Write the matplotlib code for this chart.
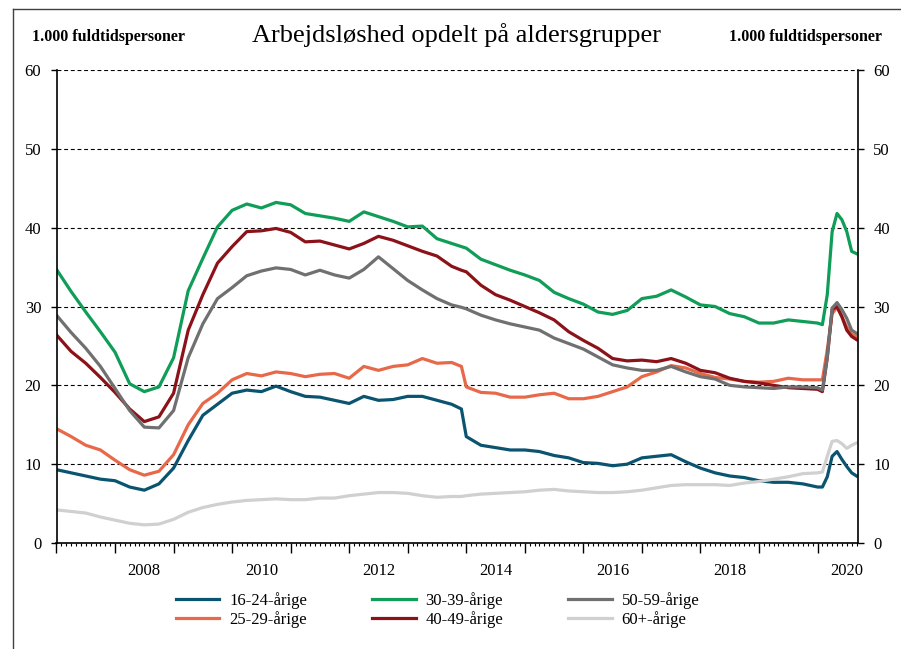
import matplotlib
matplotlib.use("Agg")
import matplotlib.pyplot as plt
import matplotlib.transforms as mtransforms
from matplotlib.lines import Line2D
import numpy as np

# måneder efter januar 2007
maaned = [0, 3, 6, 9, 12, 15, 18, 21, 24, 27, 30, 33, 36, 39, 42, 45, 48, 51, 54, 57,
          60, 63, 66, 69, 72, 75, 78, 81, 83, 84, 87, 90, 93, 96, 99, 102, 105, 108,
          111, 114, 117, 120, 123, 126, 129, 132, 135, 138, 141, 144, 147, 150, 153,
          156, 157, 158, 159, 160, 161, 162, 163, 164]

aar_16_24 = [9.3, 8.9, 8.5, 8.1, 7.9, 7.1, 6.7, 7.5, 9.5, 13.0, 16.2, 17.6, 19.0, 19.4, 19.2, 19.9, 19.2, 18.6, 18.5, 18.1,
             17.7, 18.6, 18.1, 18.2, 18.6, 18.6, 18.1, 17.6, 17.0, 13.5, 12.4, 12.1, 11.8, 11.8, 11.6, 11.1, 10.8, 10.2,
             10.1, 9.8, 10.0, 10.8, 11.0, 11.2, 10.3, 9.5, 8.9, 8.5, 8.3, 7.9, 7.7, 7.7, 7.5,
             7.1, 7.1, 8.4, 11.0, 11.6, 10.6, 9.7, 8.9, 8.5]
aar_25_29 = [14.5, 13.5, 12.4, 11.8, 10.5, 9.3, 8.6, 9.1, 11.2, 15.0, 17.7, 19.0, 20.7, 21.5, 21.2, 21.7, 21.5, 21.1, 21.4, 21.5,
             20.9, 22.4, 21.9, 22.4, 22.6, 23.4, 22.8, 22.9, 22.4, 19.8, 19.1, 19.0, 18.5, 18.5, 18.8, 19.0, 18.3, 18.3,
             18.6, 19.2, 19.8, 21.1, 21.7, 22.5, 22.2, 21.5, 21.0, 20.8, 20.5, 20.4, 20.5, 20.9, 20.7,
             20.7, 20.7, 24.5, 29.1, 29.9, 28.7, 27.4, 26.5, 26.2]
aar_30_39 = [34.7, 31.9, 29.3, 26.8, 24.2, 20.2, 19.2, 19.8, 23.5, 32.0, 36.1, 40.1, 42.2, 43.0, 42.5, 43.2, 42.9, 41.8, 41.5, 41.2,
             40.8, 42.0, 41.4, 40.8, 40.1, 40.2, 38.6, 38.0, 37.6, 37.4, 36.0, 35.3, 34.6, 34.0, 33.3, 31.8, 31.0, 30.3,
             29.3, 29.0, 29.5, 31.0, 31.3, 32.1, 31.2, 30.2, 30.0, 29.1, 28.7, 27.9, 27.9, 28.3, 28.1,
             27.9, 27.7, 31.5, 39.5, 41.8, 41.0, 39.5, 37.0, 36.7]
aar_40_49 = [26.4, 24.3, 22.8, 21.0, 19.1, 17.0, 15.4, 16.0, 19.0, 27.0, 31.5, 35.5, 37.6, 39.5, 39.6, 39.9, 39.4, 38.2, 38.3, 37.8,
             37.3, 38.0, 38.9, 38.4, 37.7, 37.0, 36.4, 35.1, 34.6, 34.4, 32.7, 31.5, 30.8, 30.0, 29.2, 28.3, 26.8, 25.7,
             24.7, 23.4, 23.1, 23.2, 23.0, 23.4, 22.8, 21.9, 21.6, 20.9, 20.5, 20.3, 20.0, 19.7, 19.6,
             19.5, 19.2, 23.5, 29.6, 30.0, 28.7, 27.0, 26.2, 25.8]
aar_50_59 = [28.9, 26.7, 24.7, 22.4, 19.6, 16.8, 14.7, 14.6, 16.8, 23.5, 27.8, 31.0, 32.4, 33.9, 34.5, 34.9, 34.7, 34.0, 34.6, 34.0,
             33.6, 34.7, 36.3, 34.8, 33.3, 32.1, 31.0, 30.2, 29.9, 29.7, 28.9, 28.3, 27.8, 27.4, 27.0, 26.0, 25.3, 24.6,
             23.6, 22.6, 22.2, 21.9, 21.9, 22.4, 21.7, 21.1, 20.8, 20.0, 19.8, 19.7, 19.6, 19.8, 19.8,
             19.7, 19.4, 23.6, 29.8, 30.5, 29.6, 28.5, 27.0, 26.6]
aar_60 = [4.2, 4.0, 3.8, 3.3, 2.9, 2.5, 2.3, 2.4, 3.0, 3.9, 4.5, 4.9, 5.2, 5.4, 5.5, 5.6, 5.5, 5.5, 5.7, 5.7,
          6.0, 6.2, 6.4, 6.4, 6.3, 6.0, 5.8, 5.9, 5.9, 6.0, 6.2, 6.3, 6.4, 6.5, 6.7, 6.8, 6.6, 6.5,
          6.4, 6.4, 6.5, 6.7, 7.0, 7.3, 7.4, 7.4, 7.4, 7.3, 7.6, 7.8, 8.1, 8.4, 8.8,
          8.9, 9.0, 11.0, 12.9, 13.0, 12.6, 12.0, 12.4, 12.7]

serier = [
    ("16-24-årige", aar_16_24, "#0b5470"),
    ("25-29-årige", aar_25_29, "#e8684a"),
    ("30-39-årige", aar_30_39, "#0f9d58"),
    ("40-49-årige", aar_40_49, "#8c1219"),
    ("50-59-årige", aar_50_59, "#707070"),
    ("60+-årige", aar_60, "#d0d0d0"),
]

plt.rcParams['font.family'] = ['Liberation Serif', 'DejaVu Serif']

fig = plt.figure(figsize=(9.01, 6.49), dpi=100)
ax = fig.add_axes([56.5 / 901, 1 - 543 / 649, (858 - 56.5) / 901, (543 - 70) / 649])

t = 2007 + np.array(maaned) / 12.0
linjer = {}
for navn, vaerdi, farve in serier:
    linjer[navn], = ax.plot(t, vaerdi, color=farve, lw=2.3, solid_joinstyle='round')

ax.set_xlim(2007, 2007 + 164.3 / 12)
ax.set_ylim(0, 60)

# y-akse begge sider
ax.set_yticks(range(0, 61, 10))
ax.tick_params(axis='y', which='both', left=True, right=True, labelleft=True, labelright=True,
               direction='out', length=4, width=1, labelsize=12, pad=7)
ax.yaxis.grid(True, linestyle=(0, (3.5, 2.5)), color='black', lw=0.8)
ax.set_axisbelow(True)

# x-akse: store streger ved årsskifte, små ved hver måned
ax.set_xticks(range(2007, 2021))
ax.set_xticklabels([])
ax.set_xticks(2007 + np.arange(0, 165) / 12.0, minor=True)
ax.tick_params(axis='x', which='major', direction='out', length=7, width=1)
ax.tick_params(axis='x', which='minor', direction='out', length=2.5, width=0.8)

trans = mtransforms.blended_transform_factory(ax.transData, ax.transAxes)
for aar in range(2008, 2021, 2):
    ax.text(aar + 0.5, -0.06, str(aar), transform=trans, ha='center', va='center', fontsize=12)

ax.spines['top'].set_visible(False)
for s in ['left', 'right', 'bottom']:
    ax.spines[s].set_linewidth(1.2)

fig.text(457 / 901, 1 - 35 / 649, "Arbejdsløshed opdelt på aldersgrupper", ha='center', va='center', fontsize=19)
fig.text(32 / 901, 1 - 37 / 649, "1.000 fuldtidspersoner", ha='left', va='center', fontsize=11.5, fontweight='bold')
fig.text(882 / 901, 1 - 37 / 649, "1.000 fuldtidspersoner", ha='right', va='center', fontsize=11.5, fontweight='bold')

fig.legend([linjer[n] for n, _, _ in serier], [n for n, _, _ in serier],
           ncol=3, loc='center left', bbox_to_anchor=(161 / 901, 1 - 610 / 649),
           frameon=False, fontsize=12, handlelength=2.6, handletextpad=0.6,
           columnspacing=3.9, labelspacing=0.15)

# ramme om figuren
fig.add_artist(Line2D([13 / 901, 1], [1 - 9 / 649, 1 - 9 / 649], color='#404040', lw=1))
fig.add_artist(Line2D([13 / 901, 13 / 901], [0, 1 - 9 / 649], color='#404040', lw=1))

plt.savefig("out.png", dpi=100)
